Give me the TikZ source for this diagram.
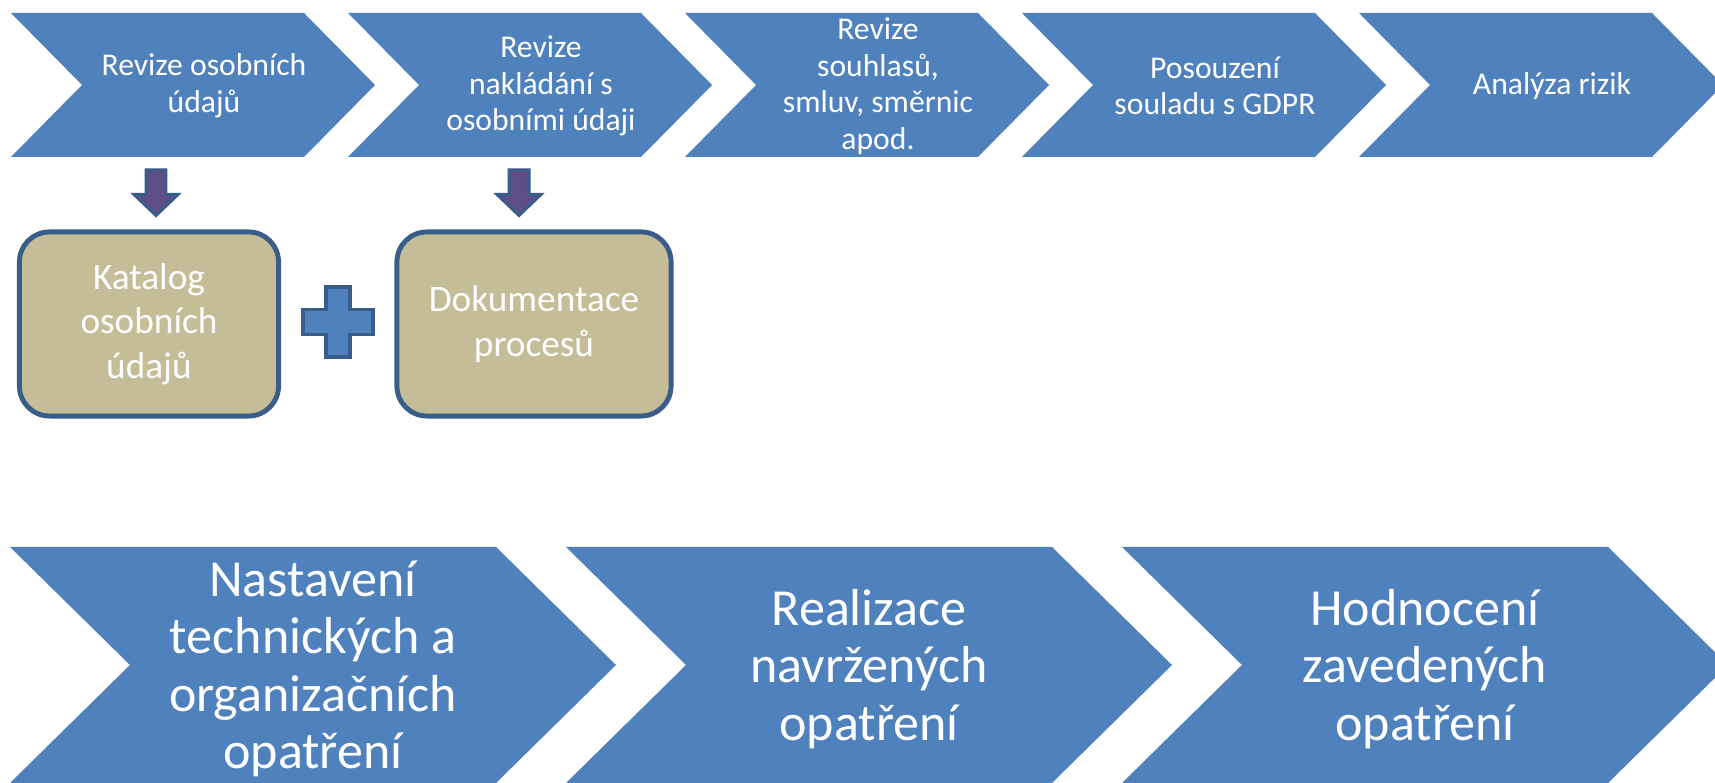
\documentclass[tikz,border=0pt]{standalone}
\usepackage{fontspec}
\setmainfont{Carlito}
\usetikzlibrary{calc}
\definecolor{chevblue}{HTML}{4F81BD}
\definecolor{edgeblue}{HTML}{385D8A}
\definecolor{boxtan}{HTML}{C4BD97}
\definecolor{arrowviolet}{HTML}{5D4F85}

\tikzset{
  toptext/.style={text=white, align=center, inner sep=0pt, font=\fontsize{9}{10.4}\selectfont},
  bottext/.style={text=white, align=center, inner sep=0pt, font=\fontsize{14.8}{16.3}\selectfont},
  docbox/.style={draw=edgeblue, line width=1.4pt, fill=boxtan, rounded corners=0.3cm,
    minimum height=1.84cm, text=white, align=center, font=\fontsize{10.6}{12.6}\selectfont},
  blockarrow/.style={draw=edgeblue, fill=arrowviolet, line width=0.85pt},
  plusmark/.style={draw=edgeblue, fill=chevblue, line width=1.1pt}
}

\begin{document}
\begin{tikzpicture}[x=0.01cm, y=-0.01cm]
    \fill[white] (0,0) rectangle (1715,783);
    \useasboundingbox (0,0) rectangle (1715,783);
    \clip (0,0) rectangle (1715,783);
    % upper row of steps
    \foreach \txt [count=\i from 0] in {{Revize osobních\\údajů}, {Revize\\nakládání s\\osobními údaji},
        {Revize\\souhlasů,\\smluv, směrnic\\apod.}, {Posouzení\\souladu s GDPR}, {Analýza rizik}} {
        \pgfmathsetmacro{\x}{11+337*\i}
        \fill[chevblue] (\x,13) -- ++(293,0) -- ++(71,72) -- ++(-71,72) -- ++(-293,0) -- ++(71,-72) -- cycle;
        \node[toptext] (top\i) at (\x+193,86) {\txt};
    }
    % lower row of phases
    \foreach \txt [count=\i from 0] in {{Nastavení\\technických a\\organizačních\\opatření},
        {Realizace\\navržených\\opatření}, {Hodnocení\\zavedených\\opatření}} {
        \pgfmathsetmacro{\x}{10+556*\i}
        \fill[chevblue] (\x,547) -- ++(486,0) -- ++(120,118) -- ++(-120,118) -- ++(-486,0) -- ++(120,-118) -- cycle;
        \node[bottext] (phase\i) at (\x+303,669) {\txt};
    }
    % outputs
    \node[docbox, minimum width=2.59cm] (katalog) at (149,324) {Katalog\\osobních\\údajů};
    \node[docbox, minimum width=2.74cm] (procesy) at (534,324) {Dokumentace\\procesů};
    \coordinate (plus) at (338,322);
    \filldraw[plusmark] ($(plus)+(-35,-12.5)$) -- ++(23,0) -- ++(0,-22.5) -- ++(24,0) -- ++(0,22.5)
        -- ++(23,0) -- ++(0,25) -- ++(-23,0) -- ++(0,22.5) -- ++(-24,0) -- ++(0,-22.5) -- ++(-23,0) -- cycle;
    % arrows from the steps to the outputs
    \coordinate (arr1top) at (156,170);
    \coordinate (arr1tip) at (arr1top |- katalog.north);
    \coordinate (arr2top) at (519,170);
    \coordinate (arr2tip) at (arr2top |- procesy.north);
    \foreach \a in {1,2} {
        \filldraw[blockarrow] ($(arr\a top)+(-10,0)$) -- ($(arr\a top)+(10,0)$) -- ($(arr\a tip)+(10,-35)$)
            -- ($(arr\a tip)+(22,-35)$) -- ($(arr\a tip)+(0,-14)$) -- ($(arr\a tip)+(-22,-35)$)
            -- ($(arr\a tip)+(-10,-35)$) -- cycle;
    }
\end{tikzpicture}
\end{document}
